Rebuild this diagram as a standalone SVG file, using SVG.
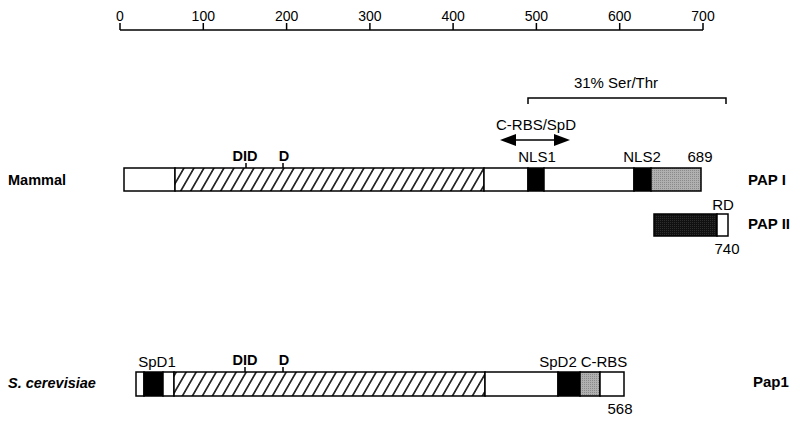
<svg xmlns="http://www.w3.org/2000/svg" width="800" height="426" viewBox="0 0 800 426">
<style>
text{font-family:"Liberation Sans",Arial,sans-serif;fill:#000}
.n{font-size:15px}
.r{font-size:14px;text-anchor:middle}
.b{font-size:14.5px;font-weight:bold}
.bl{font-size:15px;font-weight:bold}
.box{stroke:#000;stroke-width:1.5}
.ln{stroke:#000;stroke-width:1.5;fill:none}
</style>
<defs>
<pattern id="hatch" patternUnits="userSpaceOnUse" width="10" height="10" patternTransform="skewX(-30)">
<rect width="10" height="10" fill="#fff"/>
<line x1="1" y1="0" x2="1" y2="10" stroke="#000" stroke-width="1.7"/>
</pattern>
<pattern id="stip" patternUnits="userSpaceOnUse" width="2" height="2">
<rect width="2" height="2" fill="#b0b0b0"/>
<rect width="1" height="1" fill="#8a8a8a"/>
</pattern>
<pattern id="dark" patternUnits="userSpaceOnUse" width="2" height="2">
<rect width="2" height="2" fill="#111"/>
<rect width="1" height="1" fill="#2e2e2e"/>
</pattern>
<marker id="ah" viewBox="0 0 16 12" refX="2" refY="6" markerWidth="16" markerHeight="12" markerUnits="userSpaceOnUse" orient="auto-start-reverse">
<path d="M16,6 L0,0 L0,12 Z" fill="#000"/>
</marker>
</defs>

<g id="ruler">
<line class="ln" x1="120" y1="30" x2="703" y2="30"/>
<path class="ln" d="M120,23V30M203.3,23V30M286.6,23V30M369.9,23V30M453.1,23V30M536.4,23V30M619.7,23V30M703,23V30"/>
<text class="r" x="120" y="21">0</text>
<text class="r" x="203.3" y="21">100</text>
<text class="r" x="286.6" y="21">200</text>
<text class="r" x="369.9" y="21">300</text>
<text class="r" x="453.1" y="21">400</text>
<text class="r" x="536.4" y="21">500</text>
<text class="r" x="619.7" y="21">600</text>
<text class="r" x="703" y="21">700</text>
</g>

<g id="connectors">
<path class="ln" d="M528,104V98H726V104"/>
<line x1="514" y1="140" x2="556" y2="140" stroke="#000" stroke-width="1.5" marker-start="url(#ah)" marker-end="url(#ah)"/>
</g>

<g id="sertr">
<text class="n" x="616" y="88" text-anchor="middle">31% Ser/Thr</text>
</g>
<g id="crbs-spd">
<text class="n" x="536" y="130" text-anchor="middle">C-RBS/SpD</text>
</g>

<g id="mammal">
<text class="b" x="8" y="185">Mammal</text>
<rect class="box" x="124" y="168" width="51" height="23" fill="#fff"/>
<rect class="box" x="175" y="168" width="309" height="23" fill="url(#hatch)"/>
<rect class="box" x="484" y="168" width="44" height="23" fill="#fff"/>
<rect class="box" x="528" y="168" width="16" height="23" fill="#000"/>
<rect class="box" x="544" y="168" width="90" height="23" fill="#fff"/>
<rect class="box" x="634" y="168" width="17" height="23" fill="#000"/>
<rect class="box" x="651" y="168" width="50" height="23" fill="url(#stip)"/>
<path class="ln" d="M246,163V168M283,163V168"/>
<text class="b" x="245" y="161" text-anchor="middle">DID</text>
<text class="b" x="284" y="161" text-anchor="middle">D</text>
<text class="n" x="537" y="162" text-anchor="middle">NLS1</text>
<text class="n" x="642" y="162" text-anchor="middle">NLS2</text>
<text class="n" x="700" y="162" text-anchor="middle">689</text>
<text class="bl" x="748" y="185">PAP I</text>
</g>

<g id="pap2">
<rect class="box" x="654" y="214" width="63" height="22" fill="url(#dark)"/>
<rect class="box" x="717" y="214" width="11" height="22" fill="#fff"/>
<text class="n" x="723" y="210" text-anchor="middle">RD</text>
<text class="n" x="727" y="254" text-anchor="middle">740</text>
<text class="bl" x="748" y="229">PAP II</text>
</g>

<g id="yeast">
<text class="b" x="8" y="388" font-style="italic">S. cerevisiae</text>
<rect class="box" x="136" y="372" width="8" height="24" fill="#fff"/>
<rect class="box" x="144" y="372" width="19" height="24" fill="#000"/>
<rect class="box" x="163" y="372" width="11" height="24" fill="#fff"/>
<rect class="box" x="174" y="372" width="311" height="24" fill="url(#hatch)"/>
<rect class="box" x="485" y="372" width="73" height="24" fill="#fff"/>
<rect class="box" x="558" y="372" width="22" height="24" fill="#000"/>
<rect class="box" x="580" y="372" width="20" height="24" fill="url(#stip)"/>
<rect class="box" x="600" y="372" width="24" height="24" fill="#fff"/>
<path class="ln" d="M245,367V372M283,367V372"/>
<text class="b" x="245" y="365" text-anchor="middle">DID</text>
<text class="b" x="284" y="365" text-anchor="middle">D</text>
<text class="n" x="157" y="367" text-anchor="middle">SpD1</text>
<text class="n" x="558" y="367" text-anchor="middle">SpD2</text>
<text class="n" x="604" y="367" text-anchor="middle">C-RBS</text>
<text class="n" x="620" y="414" text-anchor="middle" font-size="14">568</text>
<text class="bl" x="753" y="387">Pap1</text>
</g>
</svg>
